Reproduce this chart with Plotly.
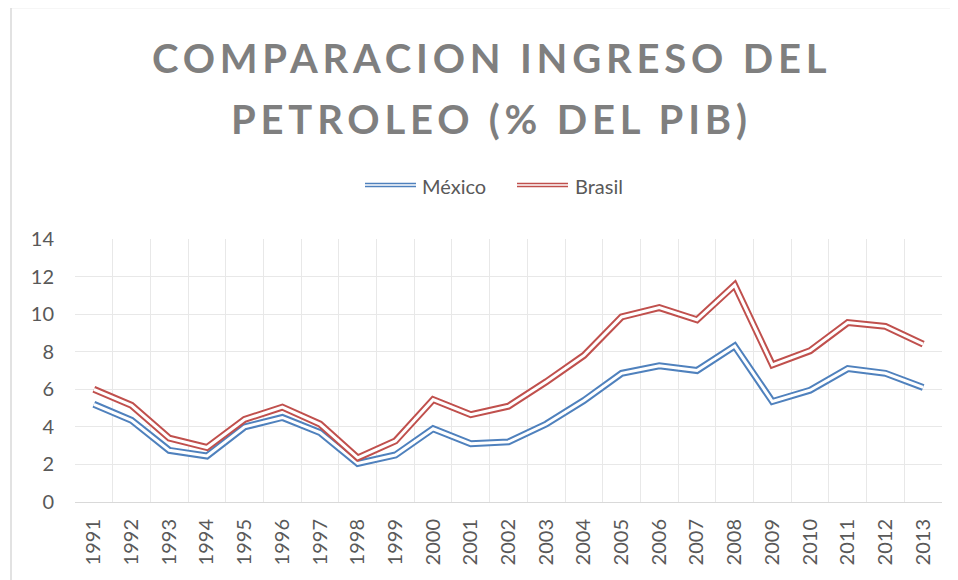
import plotly.graph_objects as go

years = [str(y) for y in range(1991, 2014)]
mexico = [5.2, 4.35, 2.75, 2.45, 4.0, 4.5, 3.7, 2.05, 2.5, 3.9, 3.1, 3.2, 4.15,
          5.4, 6.85, 7.25, 7.0, 8.3, 5.35, 5.95, 7.1, 6.85, 6.1]
brasil = [6.0, 5.15, 3.4, 2.9, 4.4, 5.05, 4.15, 2.35, 3.25, 5.45, 4.65, 5.1, 6.4,
          7.8, 9.85, 10.35, 9.7, 11.55, 7.3, 8.05, 9.55, 9.35, 8.4]
series_names = ["México", "Brasil"]
title_lines = ["COMPARACION INGRESO DEL", "PETROLEO (% DEL PIB)"]

BLUE = "#4f81bd"
RED = "#c0504d"
FONT = "Lato"
GRAY = "#595959"

# page body has an 8px margin: the figure is drawn at (8, 8)
OFF = 8
W, H = 958 - OFF, 580 - OFF
L, R, T, B = 75 - OFF, 16, 239 - OFF, 78
PW, PH = W - L - R, H - T - B


def px(x):
    return (x - OFF - L) / PW


def py(y):
    return (H - B - (y - OFF)) / PH


fig = go.Figure()
for name, vals, col in [(series_names[0], mexico, BLUE), (series_names[1], brasil, RED)]:
    fig.add_trace(go.Scatter(x=years, y=vals, mode="lines", name=name,
                             line=dict(color=col, width=7), showlegend=False,
                             hoverinfo="x+y+name"))
    fig.add_trace(go.Scatter(x=years, y=vals, mode="lines", name=name,
                             line=dict(color="white", width=3), showlegend=False,
                             hoverinfo="skip"))

shapes = []
annotations = []

# chart border
shapes.append(dict(type="rect", xref="paper", yref="paper",
                   x0=px(11), x1=px(975), y0=py(7.5), y1=py(600),
                   line=dict(color="#d9d9d9", width=1.5), fillcolor="rgba(0,0,0,0)",
                   layer="below"))

# title (two lines, letter-spaced)
for txt, ycen in zip(title_lines, [58, 119]):
    annotations.append(dict(
        text='<span style="letter-spacing:4.8px">' + txt + '</span>',
        xref="paper", yref="paper", x=px(491), y=py(ycen),
        xanchor="center", yanchor="middle", showarrow=False,
        font=dict(family=FONT, size=40, color="#7f7f7f", weight="bold")))

# legend
legend_items = [(series_names[0], BLUE, 365, 416, 420), (series_names[1], RED, 517, 568, 573)]
for name, col, x0, x1, xt in legend_items:
    shapes.append(dict(type="line", xref="paper", yref="paper",
                       x0=px(x0), x1=px(x1), y0=py(185), y1=py(185),
                       line=dict(color=col, width=4.5)))
    shapes.append(dict(type="line", xref="paper", yref="paper",
                       x0=px(x0 - 1), x1=px(x1 + 1), y0=py(185), y1=py(185),
                       line=dict(color="white", width=1.5)))
    annotations.append(dict(text=name, xref="paper", yref="paper",
                            x=px(xt), y=py(186), xanchor="left", yanchor="middle",
                            showarrow=False,
                            font=dict(family=FONT, size=20, color=GRAY)))

fig.update_layout(
    width=W, height=H,
    margin=dict(l=L, r=R, t=T, b=B, autoexpand=False),
    paper_bgcolor="white", plot_bgcolor="white",
    showlegend=False,
    shapes=shapes, annotations=annotations,
    xaxis=dict(type="category", range=[-0.5, len(years) - 0.5],
               tickson="boundaries", ticks="", showgrid=True,
               gridcolor="#e8e8e8", gridwidth=1,
               showline=True, linecolor="#d9d9d9", linewidth=1, mirror=False,
               tickangle=-90, ticklabelstandoff=8,
               tickfont=dict(family=FONT, size=20, color=GRAY)),
    yaxis=dict(range=[0, 14], dtick=2, showgrid=True, gridcolor="#e8e8e8",
               gridwidth=1, zeroline=False, ticks="", ticklabelstandoff=20,
               tickfont=dict(family=FONT, size=20, color=GRAY)),
)

fig.write_html("out.html")
